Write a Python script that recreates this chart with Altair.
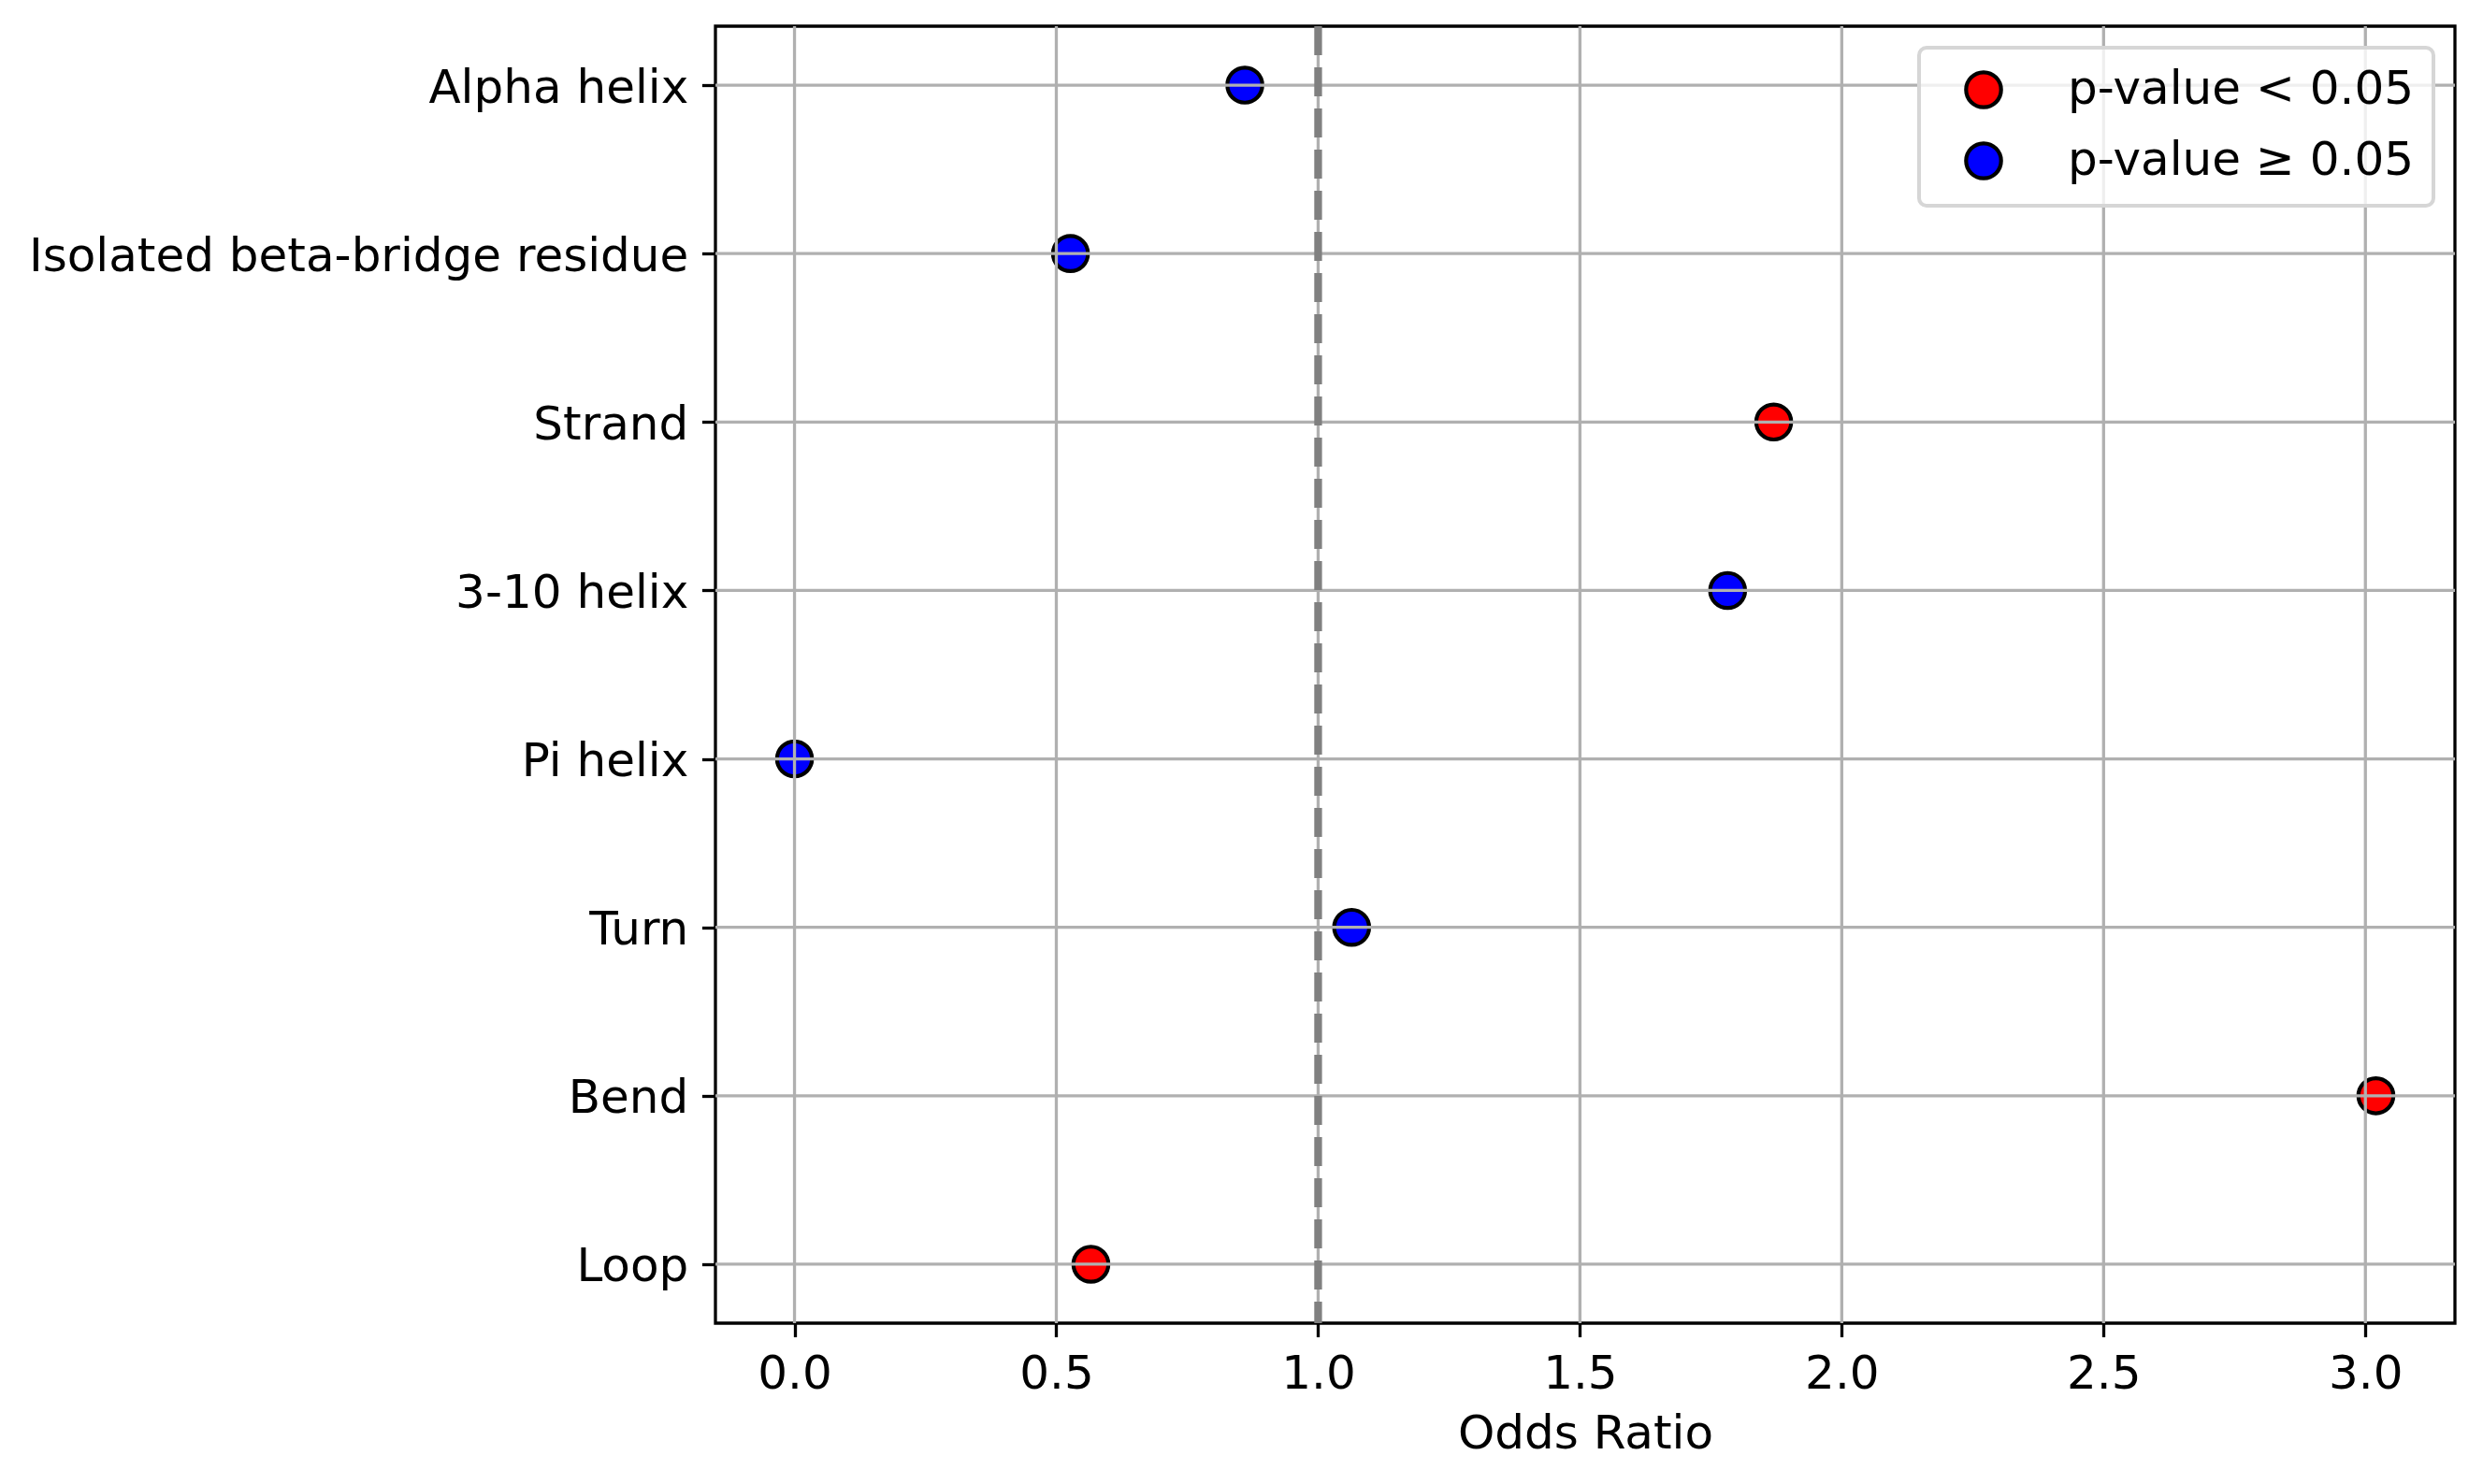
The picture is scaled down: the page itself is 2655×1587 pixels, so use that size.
import altair as alt
import pandas as pd

# ---- data ----
categories = ["Alpha helix", "Isolated beta-bridge residue", "Strand", "3-10 helix",
              "Pi helix", "Turn", "Bend", "Loop"]
odds_ratio = [0.860, 0.527, 1.870, 1.782, 0.000, 1.064, 3.020, 0.566]
significance = ["p-value ≥ 0.05", "p-value ≥ 0.05", "p-value < 0.05", "p-value ≥ 0.05",
                "p-value ≥ 0.05", "p-value ≥ 0.05", "p-value < 0.05", "p-value < 0.05"]
legend_labels = ["p-value < 0.05", "p-value ≥ 0.05"]
legend_colors = ["red", "blue"]
x_ticks = [0.0, 0.5, 1.0, 1.5, 2.0, 2.5, 3.0]
reference_value = [1.0]
x_domain = [-0.151, 3.171]

df = pd.DataFrame({"category": categories, "odds": odds_ratio, "sig": significance})
ticks_df = pd.DataFrame({"tick": x_ticks})
ref_df = pd.DataFrame({"ref": reference_value})

FONT = "DejaVu Sans"
FS = 50
LW = 3.3

x_scale = alt.Scale(domain=x_domain, nice=False, zero=False)
x_axis = alt.Axis(values=x_ticks, format=".1f", title="Odds Ratio")
y_scale = alt.Scale(type="point", padding=0.35, domain=categories)
y_axis = alt.Axis(title=None, labelOffset=3)

points = alt.Chart(df).mark_circle(
    size=1400, opacity=1, stroke="black", strokeWidth=4.2
).encode(
    x=alt.X("odds:Q", scale=x_scale, axis=x_axis),
    y=alt.Y("category:N", scale=y_scale, axis=y_axis, sort=categories),
    fill=alt.Fill("sig:N",
                  scale=alt.Scale(domain=legend_labels, range=legend_colors),
                  legend=alt.Legend(title=None, orient="top-right", offset=23)),
)

x_grid = alt.Chart(ticks_df).mark_rule(color="#b0b0b0", strokeWidth=LW).encode(
    x=alt.X("tick:Q", scale=x_scale, axis=x_axis)
)

y_grid = alt.Chart(df).mark_rule(color="#b0b0b0", strokeWidth=LW).encode(
    y=alt.Y("category:N", scale=y_scale, axis=y_axis, sort=categories)
)

ref_line = alt.Chart(ref_df).mark_rule(
    color="#808080", strokeWidth=8.3, strokeDash=[31, 13]
).encode(
    x=alt.X("ref:Q", scale=x_scale, axis=x_axis)
)

chart = alt.layer(points, x_grid, y_grid, ref_line).properties(
    width=1860,
    height=1387,
    autosize=alt.AutoSizeParams(type="none"),
    padding={"left": 757, "top": 20, "right": 21, "bottom": 164},
    background="white",
).configure_view(
    stroke="black", strokeWidth=LW
).configure_axis(
    grid=False,
    domain=False,
    ticks=True,
    tickColor="black",
    tickWidth=LW,
    tickSize=14.6,
    labelPadding=14.6,
    labelFont=FONT,
    labelFontSize=FS,
    labelColor="black",
    titleFont=FONT,
    titleFontSize=FS,
    titleFontWeight="normal",
    titleColor="black",
    titlePadding=14,
    labelLimit=1000,
).configure_legend(
    labelFont=FONT,
    labelFontSize=FS,
    labelColor="black",
    labelLimit=1000,
    labelOffset=65,
    symbolType="circle",
    symbolSize=1400,
    symbolStrokeColor="black",
    symbolStrokeWidth=4.2,
    symbolOpacity=1,
    symbolOffset=24,
    rowPadding=20,
    padding=20,
    cornerRadius=8,
    fillColor="rgba(255,255,255,0.8)",
    strokeColor="#d6d6d6",
    strokeWidth=4,
)

chart.save("out.html", embed_options={"renderer": "svg", "actions": False})
